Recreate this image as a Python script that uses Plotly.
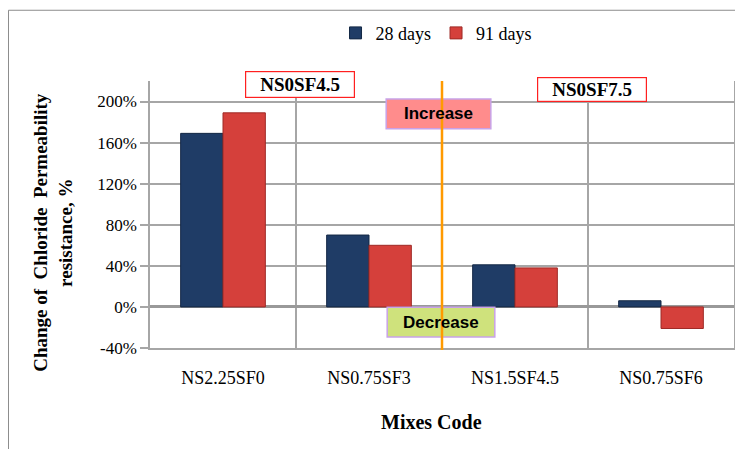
import plotly.graph_objects as go

categories = ["NS2.25SF0", "NS0.75SF3", "NS1.5SF4.5", "NS0.75SF6"]
days28 = [169, 70, 41, 6]
days91 = [189, 60, 38, -21]
ytick_vals = [-40, 0, 40, 80, 120, 160, 200]
ytick_text = ["-40%", "0%", "40%", "80%", "120%", "160%", "200%"]

SERIF = "Liberation Serif, Times New Roman, serif"
SANS = "Liberation Sans, Arial, sans-serif"
GRID = "#A6A6A6"

fig = go.Figure()
fig.add_trace(go.Bar(name="28 days", x=categories, y=days28,
                     marker=dict(color="#1F3C66", line=dict(color="#142845", width=1))))
fig.add_trace(go.Bar(name="91 days", x=categories, y=days91,
                     marker=dict(color="#D5403B", line=dict(color="#9E2A26", width=1))))

# page body has an 8px margin; work in page coordinates and shift
OFF = 8
W, H = 743 - OFF, 449 - OFF
PLOT_L, PLOT_R, PLOT_T, PLOT_B = 150, 736, 80, 348  # page coords
L = PLOT_L - OFF
R = W - (PLOT_R - OFF)
T = PLOT_T - OFF
B = H - (PLOT_B - OFF)
PW, PH = PLOT_R - PLOT_L, PLOT_B - PLOT_T

def px(x):
    return (x - PLOT_L) / PW

def py(y):
    return (PLOT_B - y) / PH

shapes = [
    dict(type="rect", xref="paper", yref="paper", x0=px(8), y0=py(470), x1=px(770), y1=py(9),
         line=dict(color="#8C8C8C", width=1), fillcolor="rgba(0,0,0,0)", layer="below"),
    dict(type="rect", xref="paper", yref="paper", x0=px(387), x1=px(492), y0=py(128), y1=py(98),
         line=dict(color="#C8A2E8", width=1.5), fillcolor="#FF8C8C", layer="above"),
    dict(type="rect", xref="paper", yref="paper", x0=px(388), x1=px(496), y0=py(337), y1=py(307),
         line=dict(color="#C8A2E8", width=1.5), fillcolor="#CFE27C", layer="above"),
    dict(type="line", xref="paper", yref="paper", x0=0.5, x1=0.5, y0=py(350), y1=1.0,
         line=dict(color="#FF9A00", width=2.5), layer="above"),
]

annotations = [
    dict(text="<b>NS0SF4.5</b>", xref="paper", yref="paper", x=px(301), y=py(83.5),
         showarrow=False, font=dict(family=SERIF, size=19, color="black"),
         bordercolor="#FF2020", borderwidth=1.2, borderpad=2, bgcolor="white",
         width=104, height=21, xanchor="center", yanchor="middle"),
    dict(text="<b>NS0SF7.5</b>", xref="paper", yref="paper", x=px(594), y=py(88.5),
         showarrow=False, font=dict(family=SERIF, size=19, color="black"),
         bordercolor="#FF2020", borderwidth=1.2, borderpad=2, bgcolor="white",
         width=104, height=19, xanchor="center", yanchor="middle"),
    dict(text="<b>Increase</b>", xref="paper", yref="paper", x=px(439.5), y=py(113),
         showarrow=False, font=dict(family=SANS, size=17, color="black"),
         xanchor="center", yanchor="middle"),
    dict(text="<b>Decrease</b>", xref="paper", yref="paper", x=px(442), y=py(322),
         showarrow=False, font=dict(family=SANS, size=17, color="black"),
         xanchor="center", yanchor="middle"),
    dict(text="<b>Mixes Code</b>", xref="paper", yref="paper", x=px(432), y=py(422),
         showarrow=False, font=dict(family=SERIF, size=20, color="black"),
         xanchor="center", yanchor="middle"),
    dict(text="<b>Change of  Chloride  Permeability<br>resistance, %</b>", xref="paper", yref="paper",
         x=px(53), y=py(232), textangle=-90, showarrow=False,
         font=dict(family=SERIF, size=19, color="black"),
         xanchor="center", yanchor="middle"),
]

fig.update_layout(
    width=W, height=H,
    margin=dict(l=L, r=R, t=T, b=B),
    paper_bgcolor="white", plot_bgcolor="white",
    barmode="group", bargap=0.42, bargroupgap=0.0,
    font=dict(family=SERIF, size=16, color="black"),
    legend=dict(orientation="h", x=px(437), y=py(32), xanchor="center", yanchor="middle",
                font=dict(family=SERIF, size=18, color="black"), itemwidth=30,
                bgcolor="rgba(0,0,0,0)"),
    shapes=shapes,
    annotations=annotations,
    xaxis=dict(type="category", tickson="boundaries", showgrid=True, gridcolor=GRID, gridwidth=1.5,
               showline=True, linecolor=GRID, linewidth=1.5, ticks="", ticklabelstandoff=13,
               tickfont=dict(family=SERIF, size=18, color="black")),
    yaxis=dict(range=[-40, 220], tickvals=ytick_vals, ticktext=ytick_text,
               showgrid=True, gridcolor=GRID, gridwidth=1.5,
               showline=True, linecolor=GRID, linewidth=1.5, mirror=True,
               ticks="outside", ticklen=8, tickcolor=GRID, tickwidth=1.5,
               zeroline=True, zerolinecolor="#999999", zerolinewidth=3,
               tickfont=dict(family=SERIF, size=17, color="black")),
)

fig.write_html("out.html")
